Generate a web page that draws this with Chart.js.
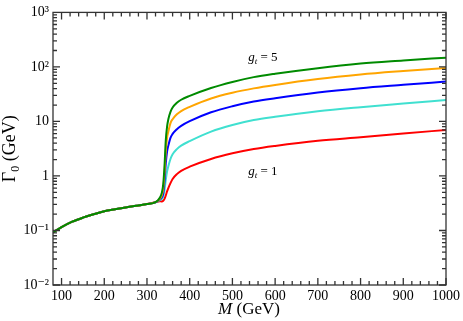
<!DOCTYPE html>
<html>
<head>
<meta charset="utf-8">
<script src="https://cdn.jsdelivr.net/npm/chart.js@4.4.1/dist/chart.umd.min.js"></script>
<style>
  html, body { margin: 0; padding: 0; background: #fff; }
  canvas { display: block; }
</style>
</head>
<body>
<canvas id="chart" width="463" height="321"></canvas>
<script>
// below threshold all five curves coincide
var massLow  = [80, 100, 125, 150, 175, 200, 225, 250, 275, 300, 320];
var widthLow = [0.092, 0.115, 0.145, 0.172, 0.198, 0.225, 0.245, 0.265, 0.283, 0.305, 0.33];

// above ~2 m_t they split by g_t
var massHigh = [330, 335, 338, 341, 344, 347, 350, 355, 360, 370, 380, 400, 450, 500, 550, 600, 700, 800, 900, 1000];
var widthGt1 = [0.345, 0.34, 0.35, 0.38, 0.44, 0.52, 0.6, 0.74, 0.88, 1.08, 1.24, 1.48, 2.05, 2.6, 3.12, 3.56, 4.42, 5.13, 5.98, 7.0];
var widthGt2 = [0.36, 0.38, 0.42, 0.55, 0.85, 1.2, 1.5, 2.05, 2.5, 3.1, 3.6, 4.35, 6.5, 8.6, 10.6, 12.2, 15.4, 18.3, 21.3, 24.7];
var widthGt3 = [0.37, 0.41, 0.48, 0.8, 1.7, 2.8, 3.6, 5.0, 5.9, 7.2, 8.3, 10.1, 14.7, 19.0, 23.2, 26.7, 33.9, 40.6, 46.9, 54];
var widthGt4 = [0.38, 0.45, 0.58, 1.1, 2.8, 5.0, 6.5, 9.3, 11, 13.5, 15.5, 18.5, 26.4, 33.6, 40.4, 46.8, 60, 72.5, 84, 96];
var widthGt5 = [0.40, 0.50, 0.70, 1.5, 4.5, 8.0, 11, 15, 18, 22, 25, 29.4, 41, 53, 65, 75, 95, 115, 131, 148];

var xTickValues = [100, 200, 300, 400, 500, 600, 700, 800, 900, 1000];
var yTickValues = [0.01, 0.1, 1, 10, 100, 1000];
var yTickLabels = ["10\u207B\u00B2", "10\u207B\u00B9", "1", "10", "10\u00B2", "10\u00B3"];

// curve labels (g_t value, at M, Gamma)
var gtLabels = ["5", "1"];
var gtLabelM = [537, 537];
var gtLabelW = [128, 1.04];

var SERIF = "'Liberation Serif', 'DejaVu Serif', serif";

function points(high) {
  var p = massLow.map(function (m, i) { return { x: m, y: widthLow[i] }; });
  return p.concat(massHigh.map(function (m, i) { return { x: m, y: high[i] }; }));
}

function line(data, color, order) {
  return {
    data: points(data), borderColor: color, backgroundColor: color,
    borderWidth: 2, pointRadius: 0, fill: false,
    cubicInterpolationMode: "monotone", order: order
  };
}

// frame, inward ticks, axis titles and g_t labels
var decor = {
  id: "decor",
  afterDraw: function (chart) {
    var ctx = chart.ctx, a = chart.chartArea;
    var xs = chart.scales.x, ys = chart.scales.y;
    ctx.save();
    ctx.strokeStyle = "#333";
    ctx.lineWidth = 1.3;
    ctx.strokeRect(a.left, a.top, a.right - a.left, a.bottom - a.top);

    ctx.beginPath();
    for (var v = 100; v <= 1000; v += 20) {
      var px = xs.getPixelForValue(v);
      var len = (v % 100 === 0) ? 7 : 4;
      ctx.moveTo(px, a.bottom); ctx.lineTo(px, a.bottom - len);
      ctx.moveTo(px, a.top); ctx.lineTo(px, a.top + len);
    }
    for (var d = -2; d < 3; d++) {
      for (var k = 1; k <= 9; k++) {
        var py = ys.getPixelForValue(k * Math.pow(10, d));
        var ln = (k === 1) ? 7 : 4;
        ctx.moveTo(a.left, py); ctx.lineTo(a.left + ln, py);
        ctx.moveTo(a.right, py); ctx.lineTo(a.right - ln, py);
      }
    }
    ctx.stroke();

    ctx.fillStyle = "#000";
    ctx.textBaseline = "alphabetic";
    // x title: italic M
    ctx.font = "italic 17px " + SERIF;
    var wM = ctx.measureText("M").width;
    ctx.font = "17px " + SERIF;
    var wRest = ctx.measureText(" (GeV)").width;
    var x0 = 249 - (wM + wRest) / 2;
    ctx.font = "italic 17px " + SERIF;
    ctx.fillText("M", x0, 314);
    ctx.font = "17px " + SERIF;
    ctx.fillText(" (GeV)", x0 + wM, 314);

    // y title: Gamma_0 (GeV)
    ctx.save();
    ctx.translate(15, (a.top + a.bottom) / 2);
    ctx.rotate(-Math.PI / 2);
    ctx.font = "18px " + SERIF;
    var wG = ctx.measureText("\u0393").width;
    ctx.font = "12px " + SERIF;
    var w0 = ctx.measureText("0").width;
    ctx.font = "18px " + SERIF;
    var wT = ctx.measureText(" (GeV)").width;
    var s = -(wG + w0 + wT) / 2;
    ctx.fillText("\u0393", s, 0);
    ctx.font = "12px " + SERIF;
    ctx.fillText("0", s + wG, 4);
    ctx.font = "18px " + SERIF;
    ctx.fillText(" (GeV)", s + wG + w0, 0);
    ctx.restore();

    // g_t = n
    gtLabels.forEach(function (t, i) {
      var lx = xs.getPixelForValue(gtLabelM[i]);
      var ly = ys.getPixelForValue(gtLabelW[i]);
      ctx.font = "italic 13px " + SERIF;
      ctx.fillText("g", lx, ly);
      var wg = ctx.measureText("g").width;
      ctx.font = "italic 9px " + SERIF;
      ctx.fillText("t", lx + wg, ly + 3);
      var wt = ctx.measureText("t").width;
      ctx.font = "13px " + SERIF;
      ctx.fillText(" = " + t, lx + wg + wt, ly);
    });
    ctx.restore();
  }
};

new Chart(document.getElementById("chart"), {
  type: "line",
  data: {
    datasets: [
      line(widthGt1, "#ff0000", 4),
      line(widthGt2, "#40e0d0", 3),
      line(widthGt3, "#0000ff", 2),
      line(widthGt4, "#ffa500", 1),
      line(widthGt5, "#008b00", 0)
    ]
  },
  options: {
    responsive: false,
    animation: false,
    layout: { padding: { top: 10, right: 15, left: 0, bottom: 0 } },
    plugins: { legend: { display: false }, tooltip: { enabled: false } },
    scales: {
      x: {
        type: "linear", min: 80, max: 1000,
        grid: { display: false, drawTicks: false }, border: { display: false },
        ticks: {
          font: { family: SERIF, size: 14 }, color: "#000", padding: 3, maxRotation: 0, autoSkip: false,
          callback: function (v) { return String(v); }
        },
        afterBuildTicks: function (s) { s.ticks = xTickValues.map(function (v) { return { value: v }; }); },
        afterFit: function (s) { s.height = 36; }
      },
      y: {
        type: "logarithmic", min: 0.01, max: 1000,
        grid: { display: false, drawTicks: false }, border: { display: false },
        ticks: {
          font: { family: SERIF, size: 14 }, color: "#000", padding: 4, autoSkip: false,
          callback: function (v, i) { return yTickLabels[i]; }
        },
        afterBuildTicks: function (s) { s.ticks = yTickValues.map(function (v) { return { value: v }; }); },
        afterFit: function (s) { s.width = 53; }
      }
    }
  },
  plugins: [decor]
});
</script>
</body>
</html>
